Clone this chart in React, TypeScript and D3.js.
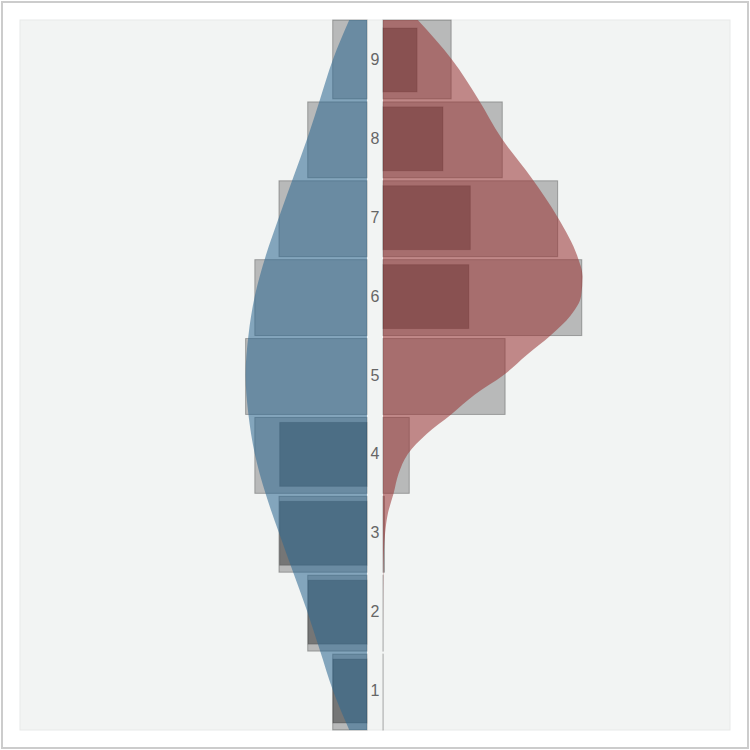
import React from 'react';
import * as d3 from 'd3';

// categories (rows, bottom to top)
const categories = [1, 2, 3, 4, 5, 6, 7, 8, 9];
// share (%) per category for the left group (blue) and right group (red)
const leftShare = [4.83, 8.35, 12.4, 15.8, 17.1, 15.8, 12.4, 8.35, 4.83];
const rightShare = [0, 0, 0.2, 3.7, 17.2, 28.0, 24.6, 16.8, 9.6];
// inner (dark) bars
const leftInner = [4.8, 8.3, 12.3, 12.3, 0, 0, 0, 0, 0];
const rightInner = [0, 0, 0, 0, 0, 12.1, 12.3, 8.45, 4.8];

// density curves (position on the category axis, density in %)
const leftDensityAt = [0.5, 1, 1.5, 2, 2.5, 3, 3.5, 4, 4.5, 5, 5.5, 6, 6.5, 7, 7.5, 8, 8.5, 9, 9.5];
const leftDensity = [2.5, 4.8, 6.6, 8.4, 10.4, 12.4, 14.3, 15.8, 16.7, 17.1, 16.7, 15.8, 14.3, 12.4, 10.4, 8.4, 6.6, 4.8, 2.5];
const rightDensityAt = [0.5, 1, 1.5, 2, 2.5, 2.75, 3, 3.25, 3.5, 3.75, 4, 4.25, 4.5, 4.75, 5, 5.25, 5.5, 5.75, 6, 6.25, 6.5, 7, 7.5, 8, 8.5, 9, 9.5];
const rightDensity = [0, 0, 0, 0.01, 0.05, 0.12, 0.3, 0.7, 1.5, 2.2, 3.5, 6.1, 9.6, 12.9, 17.0, 20.2, 23.6, 26.4, 27.9, 28.1, 27.4, 24.6, 20.9, 16.7, 13.4, 9.7, 4.9];

const W = 750;
const PX0 = 20, PX1 = 730, PY0 = 20, PY1 = 730;
const CL = 367; // left panel inner edge
const CR = 383; // right panel inner edge
const GAP = 3;

export default function App() {
  const xs = d3.scaleLinear().domain([0, 100]).range([0, 710]);
  const yLin = d3.scaleLinear().domain([0.5, 9.5]).range([PY1, PY0]);
  const step = Math.abs(yLin(1) - yLin(0));
  const innerH = step * 0.81;
  const topCat = categories[categories.length - 1];

  const barY = (k: number) => {
    const bottom = yLin(k - 0.5);
    const top = yLin(k + 0.5) + (k === topCat ? 0 : GAP);
    return { y: top, h: bottom - top };
  };

  const leftArea = d3
    .area<number>()
    .y((_, i) => yLin(leftDensityAt[i]))
    .x0(CL)
    .x1((d) => CL - xs(d))
    .curve(d3.curveMonotoneY);
  const rightArea = d3
    .area<number>()
    .y((_, i) => yLin(rightDensityAt[i]))
    .x0(CR)
    .x1((d) => CR + xs(d))
    .curve(d3.curveMonotoneY);

  const greyFill = 'rgba(0,0,0,0.24)';
  const greyStroke = 'rgba(0,0,0,0.28)';
  const innerFill = 'rgba(0,0,0,0.36)';
  const innerStroke = 'rgba(0,0,0,0.18)';

  return (
    <svg
      width={W}
      height={W}
      style={{ position: 'absolute', left: 0, top: 0, fontFamily: '"Liberation Sans", Arial, sans-serif' }}
    >
      <rect x={2} y={2} width={746} height={746} fill="#ffffff" stroke="#cccccc" strokeWidth={2} />
      <rect x={PX0} y={PY0} width={PX1 - PX0} height={PY1 - PY0} fill="#f2f4f3" stroke="#e8eae9" strokeWidth={1} />

      {/* grey bars */}
      {categories.map((k, i) => {
        const { y, h } = barY(k);
        const wl = Math.max(xs(leftShare[i]), 0.1);
        const wr = Math.max(xs(rightShare[i]), 0.1);
        return (
          <g key={'g' + k}>
            <rect x={CL - wl} y={y} width={wl} height={h} fill={greyFill} stroke={greyStroke} strokeWidth={1} />
            <rect x={CR} y={y} width={wr} height={h} fill={greyFill} stroke={greyStroke} strokeWidth={1} />
          </g>
        );
      })}

      {/* inner bars */}
      {categories.map((k, i) => {
        const cy = yLin(k) + 0.5;
        const y = cy - innerH / 2;
        const wl = xs(leftInner[i]);
        const wr = xs(rightInner[i]);
        return (
          <g key={'i' + k}>
            {wl > 0 && (
              <rect x={CL - wl} y={y} width={wl} height={innerH} fill={innerFill} stroke={innerStroke} strokeWidth={1} />
            )}
            {wr > 0 && (
              <rect x={CR} y={y} width={wr} height={innerH} fill={innerFill} stroke={innerStroke} strokeWidth={1} />
            )}
          </g>
        );
      })}

      {/* density areas */}
      <path d={leftArea(leftDensity) || ''} fill="#2d6890" fillOpacity={0.56} />
      <path d={rightArea(rightDensity) || ''} fill="#993333" fillOpacity={0.56} />

      {/* category labels */}
      {categories.map((k) => (
        <text
          key={'t' + k}
          x={(CL + CR) / 2}
          y={yLin(k)}
          textAnchor="middle"
          dominantBaseline="central"
          fontSize={16}
          fill="#666666"
        >
          {k}
        </text>
      ))}
    </svg>
  );
}
